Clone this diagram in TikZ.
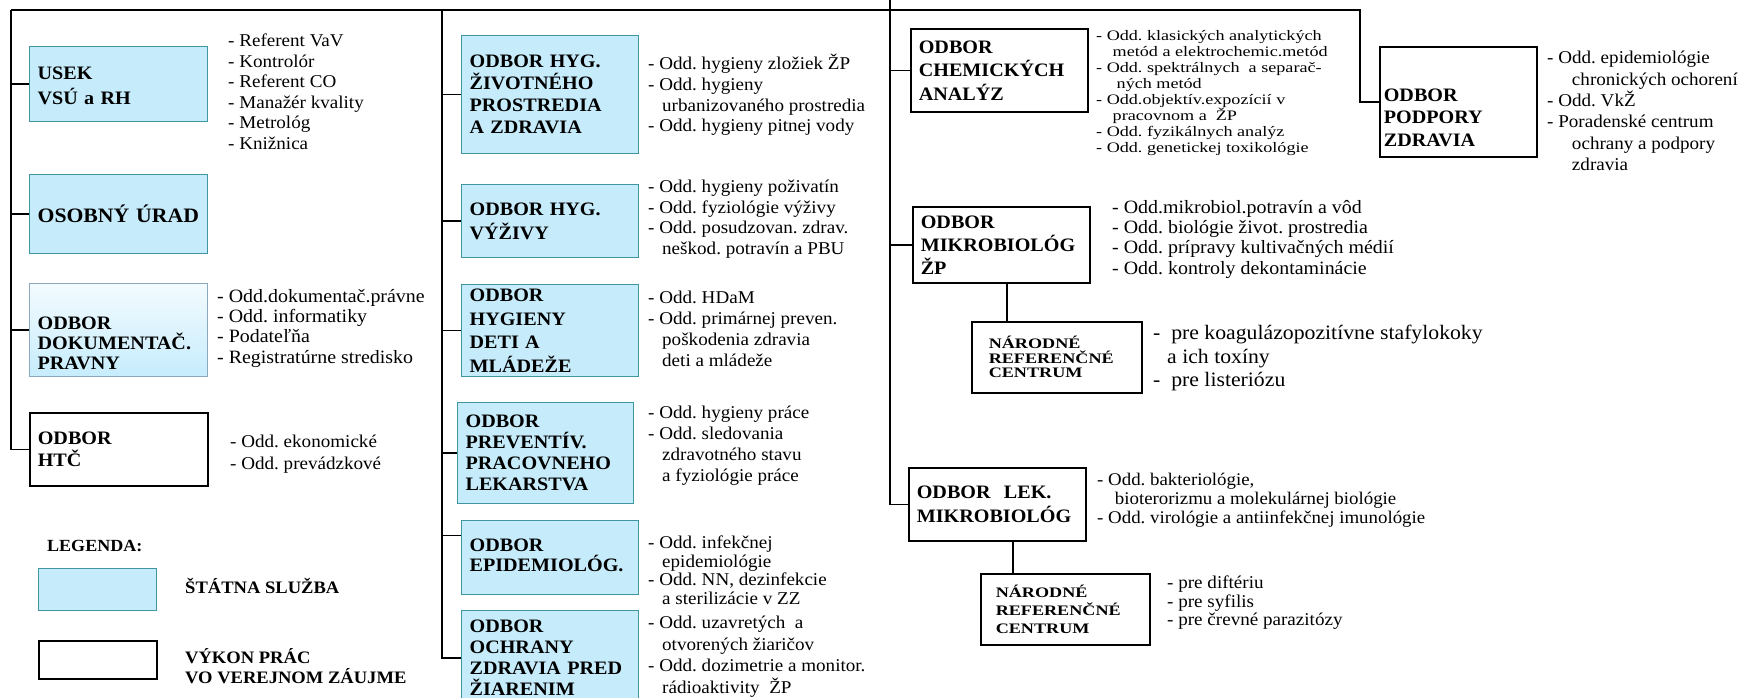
\documentclass[tikz,border=0pt]{standalone}
\usepackage{fontspec}
\setmainfont{Liberation Serif}[FakeStretch=1.06]
\newfontfamily\sirokepismo{Liberation Serif}[FakeStretch=1.25]
\usetikzlibrary{positioning}
\definecolor{statmodra}{RGB}{198,236,252}
\definecolor{statokraj}{RGB}{62,150,160}
\definecolor{dokokraj}{RGB}{140,168,190}
\newcommand{\pokr}[1][14pt]{\hspace*{#1}}
\tikzset{odbor/.style={anchor=north west,inner ysep=0pt,inner xsep=8pt,align=left,line width=1.2pt,font=\fontsize{19}{22}\selectfont\bfseries},
         statna/.style={odbor,draw=statokraj,fill=statmodra},
         verejna/.style={odbor,draw=black,fill=white,line width=1.6pt},
         zoznam/.style={anchor=north west,inner sep=0pt,align=left,font=\fontsize{18}{20.5}\selectfont},
         vetva/.style={line width=1.6pt}}

\begin{document}
\begin{tikzpicture}[x=1pt,y=-1pt]
        \useasboundingbox (0,0) rectangle (1750,697);
        \fill[white] (0,0) rectangle (1750,697);

        \node[statna,text width=162pt,minimum height=75pt,text depth=21pt,font=\fontsize{19}{25}\selectfont\bfseries] (usek) at (29,46) {USEK\\VSÚ a RH};
        \node[statna,text width=162pt,minimum height=79pt,font=\fontsize{20.5}{24}\selectfont\bfseries] (osobny) at (29,174) {OSOBNÝ ÚRAD};
        \node[odbor,draw=dokokraj,top color=statmodra!20,bottom color=statmodra,text width=162pt,minimum height=93pt,text depth=13pt,font=\fontsize{19}{20}\selectfont\bfseries] (dokum) at (29,283) {ODBOR\\DOKUMENTAČ.\\PRAVNY};
        \node[verejna,text width=162pt,minimum height=73pt] (htc) at (29,412) {ODBOR\\HTČ};

        \node[zoznam] (zoznam_usek) at (228,34) {- Referent VaV\\- Kontrolór\\- Referent CO\\- Manažér kvality\\- Metrológ\\- Knižnica};
        \node[zoznam,font=\fontsize{18.8}{20.3}\selectfont] (zoznam_dokum) at (217,289) {- Odd.dokumentač.právne\\- Odd.\ informatiky\\- Podateľňa\\- Registratúrne stredisko};
        \node[zoznam,font=\fontsize{18}{21.5}\selectfont] (zoznam_htc) at (230,435) {- Odd.\ ekonomické\\- Odd.\ prevádzkové};

        \node[statna,text width=161pt,minimum height=118pt] (hyg_zp) at (461,35) {ODBOR HYG.\\ŽIVOTNÉHO\\PROSTREDIA\\A ZDRAVIA};
        \node[statna,text width=161pt,minimum height=73pt,font=\fontsize{19}{24}\selectfont\bfseries] (hyg_vyz) at (461,184) {ODBOR HYG.\\VÝŽIVY};
        \node[statna,text width=161pt,minimum height=92pt,font=\fontsize{19}{23.5}\selectfont\bfseries] (hyg_deti) at (461,284) {ODBOR\\HYGIENY\\DETI A\\MLÁDEŽE};
        \node[statna,text width=160pt,minimum height=101pt,font=\fontsize{19}{21}\selectfont\bfseries] (prev) at (457,402) {ODBOR\\PREVENTÍV.\\PRACOVNEHO\\LEKARSTVA};
        \node[statna,text width=161pt,minimum height=74pt,text depth=24pt,font=\fontsize{19}{20}\selectfont\bfseries] (epid) at (461,520) {ODBOR\\EPIDEMIOLÓG.};
        \node[statna,text width=161pt,minimum height=95pt,font=\fontsize{19}{21}\selectfont\bfseries] (ziar) at (461,610) {ODBOR\\OCHRANY\\ZDRAVIA PRED\\ŽIARENIM};

        \node[zoznam,font=\fontsize{18}{20.7}\selectfont] (zoznam_zp) at (648,54) {- Odd.\ hygieny zložiek ŽP\\- Odd.\ hygieny\\\pokr urbanizovaného prostredia\\- Odd.\ hygieny pitnej vody};
        \node[zoznam] (zoznam_vyz) at (648,180) {- Odd.\ hygieny poživatín\\- Odd.\ fyziológie výživy\\- Odd.\ posudzovan.\ zdrav.\\\pokr neškod.\ potravín a PBU};
        \node[zoznam,font=\fontsize{18}{21}\selectfont] (zoznam_deti) at (648,291) {- Odd.\ HDaM\\- Odd.\ primárnej preven.\\\pokr poškodenia zdravia\\\pokr deti a mládeže};
        \node[zoznam,font=\fontsize{18}{21}\selectfont] (zoznam_prev) at (648,406) {- Odd.\ hygieny práce\\- Odd.\ sledovania\\\pokr zdravotného stavu\\\pokr a fyziológie práce};
        \node[zoznam,font=\fontsize{18}{18.5}\selectfont] (zoznam_epid) at (648,536) {- Odd.\ infekčnej\\\pokr epidemiológie\\- Odd.\ NN, dezinfekcie\\\pokr a sterilizácie v ZZ};
        \node[zoznam,font=\fontsize{18}{21.5}\selectfont] (zoznam_ziar) at (648,616) {- Odd.\ uzavretých\ \ a\\\pokr otvorených žiaričov\\- Odd.\ dozimetrie a monitor.\\\pokr rádioaktivity\ \ ŽP};

        \node[verejna,text width=161pt,minimum height=83pt,font=\fontsize{19}{23.5}\selectfont\bfseries] (chem) at (910,28) {ODBOR\\CHEMICKÝCH\\ANALÝZ};
        \node[verejna,text width=161pt,minimum height=76pt,font=\fontsize{19}{23}\selectfont\bfseries] (mikro) at (912,206) {ODBOR\\MIKROBIOLÓG\\ŽP};
        \node[verejna,inner xsep=17pt,text width=136pt,minimum height=71pt,font=\sirokepismo\fontsize{14.5}{14.5}\selectfont\bfseries] (nrc_mikro) at (971,321) {NÁRODNÉ\\REFERENČNÉ\\CENTRUM};
        \node[verejna,text width=161pt,minimum height=73pt,font=\fontsize{19}{24}\selectfont\bfseries] (lek) at (908,467) {ODBOR\hspace{0.7em}LEK.\\MIKROBIOLÓG};
        \node[verejna,inner xsep=15pt,text width=139pt,minimum height=71pt,font=\sirokepismo\fontsize{14.5}{18}\selectfont\bfseries] (nrc_lek) at (980,573) {NÁRODNÉ\\REFERENČNÉ\\CENTRUM};

        \node[zoznam,font=\sirokepismo\fontsize{14.5}{16}\selectfont] (zoznam_chem) at (1096,30) {- Odd.\ klasických analytických\\\pokr[12pt] metód a elektrochemic.metód\\- Odd.\ spektrálnych\ \ a separač-\\\pokr[16pt] ných metód\\- Odd.objektív.expozícií v\\\pokr[12pt] pracovnom a\ \ ŽP\\- Odd.\ fyzikálnych analýz\\- Odd.\ genetickej toxikológie};
        \node[zoznam,font=\fontsize{18.8}{20.3}\selectfont] (zoznam_mikro) at (1112,200) {- Odd.mikrobiol.potravín a vôd\\- Odd.\ biológie život.\ prostredia\\- Odd.\ prípravy kultivačných médií\\- Odd.\ kontroly dekontaminácie};
        \node[zoznam,font=\fontsize{20.5}{23.5}\selectfont] (zoznam_nrc_mikro) at (1153,325) {-\ \ pre koagulázopozitívne stafylokoky\\\pokr a ich toxíny\\-\ \ pre listeriózu};
        \node[zoznam,font=\fontsize{17.8}{19}\selectfont] (zoznam_lek) at (1097,473) {- Odd.\ bakteriológie,\\\pokr[13pt] bioterorizmu a molekulárnej biológie\\- Odd.\ virológie a antiinfekčnej imunológie};
        \node[zoznam,font=\fontsize{18}{18.5}\selectfont] (zoznam_nrc_lek) at (1167,576) {- pre diftériu\\- pre syfilis\\- pre črevné parazitózy};

        \node[verejna,inner xsep=4pt,text width=149pt,minimum height=110pt,text depth=14pt,font=\fontsize{19}{22.5}\selectfont\bfseries] (podpory) at (1379,46) {ODBOR\\PODPORY\\ZDRAVIA};
        \node[zoznam,font=\fontsize{18}{21.4}\selectfont] (zoznam_podpory) at (1547,51) {- Odd.\ epidemiológie\\\pokr[20pt] chronických ochorení\\- Odd.\ VkŽ\\- Poradenské centrum\\\pokr[20pt] ochrany a podpory\\\pokr[20pt] zdravia};

        \node[anchor=base west,inner sep=0pt,font=\fontsize{17}{20}\selectfont\bfseries] (legenda) at (47,551) {LEGENDA:};
        \node[statna,minimum width=118pt,minimum height=42pt] (leg_stat) at (38,568) {};
        \node[verejna,minimum width=118pt,minimum height=38pt] (leg_ver) at (38,640) {};
        \node[anchor=base west,inner sep=0pt,font=\fontsize{17.5}{20}\selectfont\bfseries] (leg_stat_text) at (185,593) {ŠTÁTNA SLUŽBA};
        \node[anchor=north west,inner sep=0pt,align=left,font=\fontsize{17.5}{20}\selectfont\bfseries] (leg_ver_text) at (185,648) {VÝKON PRÁC\\VO VEREJNOM ZÁUJME};

        \coordinate (koren_l) at (11,10);
        \coordinate (koren_p) at (1360,10);
        \coordinate (stlpec2) at (442,10);
        \coordinate (stlpec3) at (890,0);
        \coordinate (epid_vstup) at ([yshift=22pt]epid.west);

        \draw[vetva] (koren_l) -- (koren_p) |- (podpory.west);
        \draw[vetva] (koren_l) |- (htc.west);
        \foreach \n in {usek,osobny,dokum}
            \draw[vetva] (koren_l |- \n.west) -- (\n.west);
        \draw[vetva] (stlpec2) |- (ziar.west);
        \foreach \n in {hyg_zp,hyg_vyz,hyg_deti,prev}
            \draw[vetva] (stlpec2 |- \n.west) -- (\n.west);
        \draw[vetva] (stlpec2 |- epid_vstup) -- (epid_vstup);
        \draw[vetva] (stlpec3) |- (lek.west);
        \foreach \n in {chem,mikro}
            \draw[vetva] (stlpec3 |- \n.west) -- (\n.west);
        \draw[vetva] ([xshift=5.5pt]mikro.south) -- ([xshift=5.5pt]mikro.south |- nrc_mikro.north);
        \draw[vetva] ([xshift=15.5pt]lek.south) -- ([xshift=15.5pt]lek.south |- nrc_lek.north);
    \end{tikzpicture}
\end{document}
